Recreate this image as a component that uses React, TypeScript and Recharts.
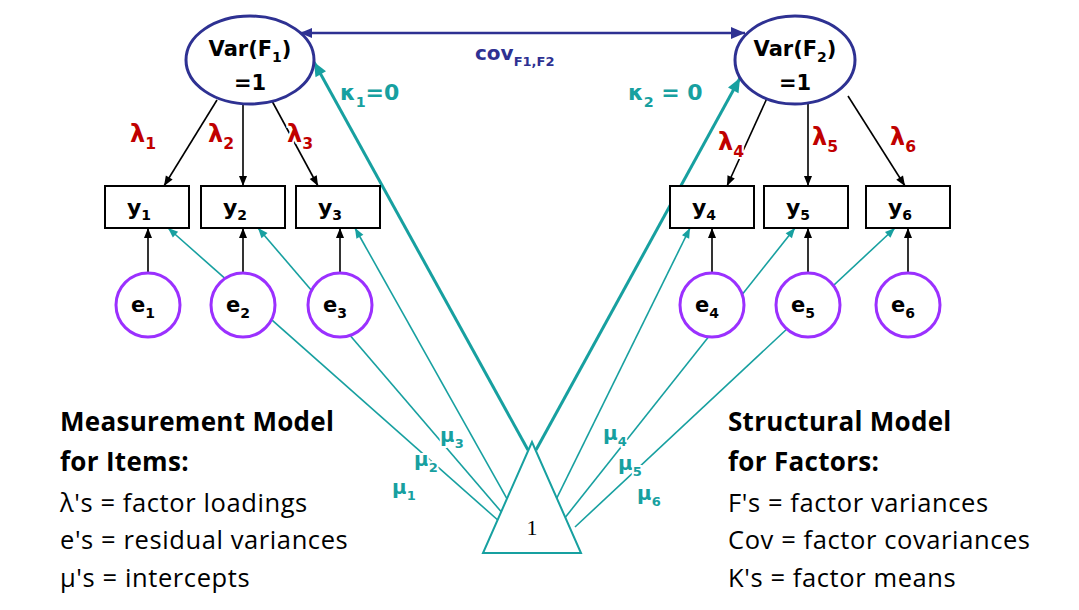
import React from "react";
import { ScatterChart, Scatter, XAxis, YAxis, ReferenceLine } from "recharts";

const W = 1079, H = 610;
const TEAL = "#17a0a0", NAVY = "#2e3192", RED = "#c00000", PURPLE = "#9b30ff";

const factors = [
  { x: 250, y: 60, rx: 64, ry: 44, a: "Var(F", s: "1", b: ")" },
  { x: 795, y: 60, rx: 60, ry: 44, a: "Var(F", s: "2", b: ")" },
];
const items = [
  { x: 147, y: 207, s: "1" }, { x: 243, y: 207, s: "2" }, { x: 338, y: 207, s: "3" },
  { x: 712, y: 207, s: "4" }, { x: 806, y: 207, s: "5" }, { x: 908, y: 207, s: "6" },
];
const errors = [
  { x: 148, y: 305, s: "1" }, { x: 243, y: 305, s: "2" }, { x: 340, y: 305, s: "3" },
  { x: 712, y: 305, s: "4" }, { x: 808, y: 305, s: "5" }, { x: 908, y: 305, s: "6" },
];
const triangle = [{ x: 532, y: 500 }];

const loadingEdges = [
  [217, 100, 164, 186], [243, 104, 243, 186], [272, 101, 318, 186],
  [768, 96, 727, 186], [808, 104, 808, 186], [848, 96, 905, 186],
];
const residualEdges = [
  [148, 272, 148, 228], [243, 272, 243, 228], [340, 272, 340, 228],
  [712, 272, 712, 228], [808, 272, 808, 228], [908, 272, 908, 228],
];
const interceptEdges = [
  [500, 522, 168, 228], [510, 522, 258, 228], [520, 522, 355, 228],
  [545, 522, 690, 228], [560, 524, 795, 228], [575, 527, 895, 228],
];
const meanEdges = [[528, 450, 314, 62], [536, 450, 740, 78]];
const covEdge = [[300, 33, 745, 33]];

const labels = [
  { x: 130, y: 142, a: "λ", s: "1", c: RED, f: 24 },
  { x: 208, y: 142, a: "λ", s: "2", c: RED, f: 24 },
  { x: 287, y: 142, a: "λ", s: "3", c: RED, f: 24 },
  { x: 718, y: 150, a: "λ", s: "4", c: RED, f: 24 },
  { x: 812, y: 145, a: "λ", s: "5", c: RED, f: 24 },
  { x: 890, y: 145, a: "λ", s: "6", c: RED, f: 24 },
  { x: 340, y: 100, a: "κ", s: "1", b: "=0", c: TEAL, f: 22 },
  { x: 628, y: 100, a: "κ", s: "2", b: " = 0", c: TEAL, f: 22 },
  { x: 475, y: 60, a: "cov", s: "F1,F2", c: NAVY, f: 20 },
  { x: 392, y: 494, a: "μ", s: "1", c: TEAL, f: 20 },
  { x: 414, y: 466, a: "μ", s: "2", c: TEAL, f: 20 },
  { x: 440, y: 442, a: "μ", s: "3", c: TEAL, f: 20 },
  { x: 603, y: 440, a: "μ", s: "4", c: TEAL, f: 20 },
  { x: 618, y: 470, a: "μ", s: "5", c: TEAL, f: 20 },
  { x: 637, y: 500, a: "μ", s: "6", c: TEAL, f: 20 },
];
const notes = [
  { x: 60, y: 431, t: "Measurement Model", bold: true },
  { x: 60, y: 471, t: "for Items:", bold: true },
  { x: 60, y: 512, t: "λ's = factor loadings" },
  { x: 60, y: 549, t: "e's = residual variances" },
  { x: 60, y: 587, t: "μ's = intercepts" },
  { x: 728, y: 431, t: "Structural Model", bold: true },
  { x: 728, y: 471, t: "for Factors:", bold: true },
  { x: 728, y: 512, t: "F's = factor variances" },
  { x: 728, y: 549, t: "Cov = factor covariances" },
  { x: 728, y: 587, t: "K's = factor means" },
];

const FONT = "DejaVu Sans, Verdana, sans-serif";

function head(x1: number, y1: number, x2: number, y2: number, c: string, L = 11, w = 5) {
  const dx = x2 - x1, dy = y2 - y1, d = Math.hypot(dx, dy), ux = dx / d, uy = dy / d;
  const bx = x2 - ux * L, by = y2 - uy * L;
  return <polygon points={`${x2},${y2} ${bx - uy * w},${by + ux * w} ${bx + uy * w},${by - ux * w}`} fill={c} />;
}

const edgeShape = (c: string, w: number, dbl = false) => (p: any) => {
  const { x1, y1, x2, y2 } = p;
  return (
    <g>
      <line x1={x1} y1={y1} x2={x2} y2={y2} stroke={c} strokeWidth={w} />
      {head(x1, y1, x2, y2, c, w > 2 ? 14 : 10, w > 2 ? 6 : 4)}
      {dbl && head(x2, y2, x1, y1, c, 12, 5)}
    </g>
  );
};

function edges(list: number[][], c: string, w: number, dbl = false, key = "") {
  return list.map((e, i) => (
    <ReferenceLine key={key + i} segment={[{ x: e[0], y: e[1] }, { x: e[2], y: e[3] }]}
      ifOverflow="visible" shape={edgeShape(c, w, dbl)} />
  ));
}

const FactorShape = (p: any) => {
  const d = p.payload;
  return (
    <g>
      <ellipse cx={p.cx} cy={p.cy} rx={d.rx} ry={d.ry} fill="#fff" stroke={NAVY} strokeWidth={3} />
      <text x={p.cx} y={p.cy - 4} textAnchor="middle" fontFamily={FONT} fontWeight="bold" fontSize={21}>
        {d.a}<tspan fontSize={14} dy={6}>{d.s}</tspan><tspan dy={-6}>{d.b}</tspan>
      </text>
      <text x={p.cx} y={p.cy + 30} textAnchor="middle" fontFamily={FONT} fontWeight="bold" fontSize={21}>=1</text>
    </g>
  );
};
const ItemShape = (p: any) => (
  <g>
    <rect x={p.cx - 42} y={p.cy - 21} width={84} height={42} fill="#fff" stroke="#000" strokeWidth={2} />
    <text x={p.cx - 8} y={p.cy + 8} textAnchor="middle" fontFamily={FONT} fontWeight="bold" fontSize={22}>
      y<tspan fontSize={14} dy={5}>{p.payload.s}</tspan>
    </text>
  </g>
);
const ErrorShape = (p: any) => (
  <g>
    <circle cx={p.cx} cy={p.cy} r={32} fill="#fff" stroke={PURPLE} strokeWidth={3} />
    <text x={p.cx - 5} y={p.cy + 7} textAnchor="middle" fontFamily={FONT} fontWeight="bold" fontSize={21}>
      e<tspan fontSize={14} dy={6}>{p.payload.s}</tspan>
    </text>
  </g>
);
const TriShape = (p: any) => (
  <g>
    <polygon points={`${p.cx},${p.cy - 58} ${p.cx - 49},${p.cy + 53} ${p.cx + 49},${p.cy + 53}`} fill="#fff" stroke={TEAL} strokeWidth={2} />
    <text x={p.cx} y={p.cy + 35} textAnchor="middle" fontFamily="Liberation Serif, serif" fontSize={22}>1</text>
  </g>
);
const LabelShape = (p: any) => {
  const d = p.payload;
  return (
    <text x={p.cx} y={p.cy} fontFamily={FONT} fontWeight="bold" fontSize={d.f} fill={d.c}
      stroke="#fff" strokeWidth={4} style={{ paintOrder: "stroke" }}>
      {d.a}<tspan fontSize={d.f * 0.65} dy={d.f * 0.3}>{d.s}</tspan>
      {d.b && <tspan dy={-d.f * 0.3}>{d.b}</tspan>}
    </text>
  );
};
const NoteShape = (p: any) => {
  const d = p.payload;
  return (
    <text x={p.cx} y={p.cy} fontFamily="Open Sans, Noto Sans, sans-serif" fontWeight={d.bold ? "bold" : "normal"}
      fontSize={d.bold ? 26 : 25.5} letterSpacing={d.bold ? 0.3 : 0.6} fill="#000">{d.t}</text>
  );
};

export default function App() {
  return (
    <div style={{ position: "absolute", left: 0, top: 0, background: "#fff" }}>
      <ScatterChart width={W} height={H} margin={{ top: 0, right: 0, bottom: 0, left: 0 }}>
        <XAxis type="number" dataKey="x" domain={[0, W]} hide />
        <YAxis type="number" dataKey="y" domain={[0, H]} reversed hide />
        {edges(covEdge, NAVY, 2.5, true, "c")}
        {edges(interceptEdges, TEAL, 1.6, false, "i")}
        {edges(meanEdges, TEAL, 3, false, "m")}
        {edges(loadingEdges, "#000", 1.6, false, "l")}
        {edges(residualEdges, "#000", 1.6, false, "r")}
        <Scatter data={factors} shape={FactorShape} isAnimationActive={false} />
        <Scatter data={items} shape={ItemShape} isAnimationActive={false} />
        <Scatter data={errors} shape={ErrorShape} isAnimationActive={false} />
        <Scatter data={triangle} shape={TriShape} isAnimationActive={false} />
        <Scatter data={labels} shape={LabelShape} isAnimationActive={false} />
        <Scatter data={notes} shape={NoteShape} isAnimationActive={false} />
      </ScatterChart>
    </div>
  );
}
